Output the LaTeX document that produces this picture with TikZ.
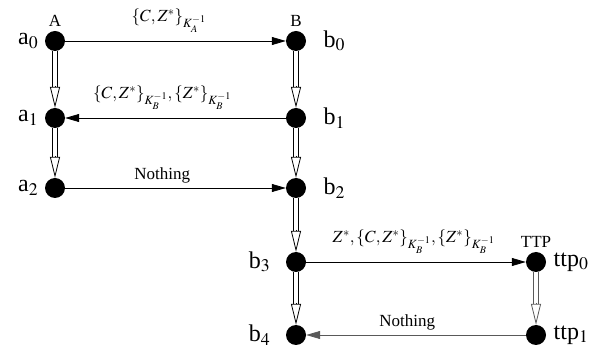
\documentclass[tikz,border=0pt]{standalone}
\usepackage{mathptmx}
\usepackage{fontspec}
\setmainfont{Liberation Serif}
\usetikzlibrary{arrows.meta}
\tikzset{
  every node/.style={font=\fontsize{17}{19}\selectfont},
  state/.style={circle, fill=black, inner sep=0pt, minimum size=20pt},
  statename/.style={font=\fontsize{24}{26}\selectfont},
  msg/.style={-{Triangle[length=14pt, width=8pt]}, line width=0.8pt},
  rail/.style={line width=0.8pt},
  refinetip/.style={line width=0.8pt,
    -{Triangle[open, length=21pt, width=10pt, line width=0.8pt]}},
}
\colorlet{ttpcol}{black!65}

\begin{document}
\begin{tikzpicture}[x=1pt, y=-1pt]
  \useasboundingbox (0,0) rectangle (589,352);

  % States of A.
  \node[state, label={[statename, label distance=3pt]left:a$_0$},
    label={[label distance=1pt]above:A}] (a0) at (55,41) {};
  \node[state, label={[statename, label distance=3pt]left:a$_1$}] (a1) at (55,118) {};
  \node[state, label={[statename, label distance=3pt]left:a$_2$}] (a2) at (55,188) {};

  % States of B.
  \node[state, label={[statename, label distance=14pt]right:b$_0$},
    label={[label distance=1pt]above:B}] (b0) at (296,41) {};
  \node[state, label={[statename, label distance=14pt]right:b$_1$}] (b1) at (296,118) {};
  \node[state, label={[statename, label distance=14pt]right:b$_2$}] (b2) at (296,188) {};
  \node[state, label={[statename, label distance=12pt]left:b$_3$}] (b3) at (296,262) {};
  \node[state, label={[statename, label distance=12pt]left:b$_4$}] (b4) at (296,335) {};

  % States of TTP.
  \node[state, label={[statename, label distance=4pt]right:ttp$_0$},
    label={[label distance=1pt]above:TTP}] (t0) at (536,262) {};
  \node[state, label={[statename, label distance=4pt]right:ttp$_1$}] (t1) at (536,335) {};

  % Local steps: two rails and an open head.
  \foreach \s/\t/\c in {a0/a1/black, a1/a2/black, b0/b1/black, b1/b2/black,
                        b2/b3/black, b3/b4/black, t0/t1/ttpcol} {
    \draw[rail, \c] ([xshift=-2.2pt]\s.south) -- ([xshift=-2.2pt, yshift=21pt]\t.north);
    \draw[rail, \c] ([xshift=2.2pt]\s.south) -- ([xshift=2.2pt, yshift=21pt]\t.north);
    \draw[refinetip, \c] ([yshift=22pt]\t.north) -- (\t.north);
  }

  % Messages.
  \draw[msg] (a0) -- (b0)
    node[pos=0.47, above=5pt] {$\{C,Z^{*}\}_{K_A^{-1}}$};
  \draw[msg] (b1) -- (a1)
    node[pos=0.56, above=5pt] {$\{C,Z^{*}\}_{K_B^{-1}},\{Z^{*}\}_{K_B^{-1}}$};
  \draw[msg] (a2) -- (b2)
    node[pos=0.44, above=1pt] {Nothing};
  \draw[msg] (b3) -- (t0)
    node[pos=0.49, above=5pt] {$Z^{*},\{C,Z^{*}\}_{K_B^{-1}},\{Z^{*}\}_{K_B^{-1}}$};
  \draw[msg, ttpcol] (t1) -- (b4)
    node[pos=0.54, above=1pt, text=black] {Nothing};

\end{tikzpicture}
\end{document}
